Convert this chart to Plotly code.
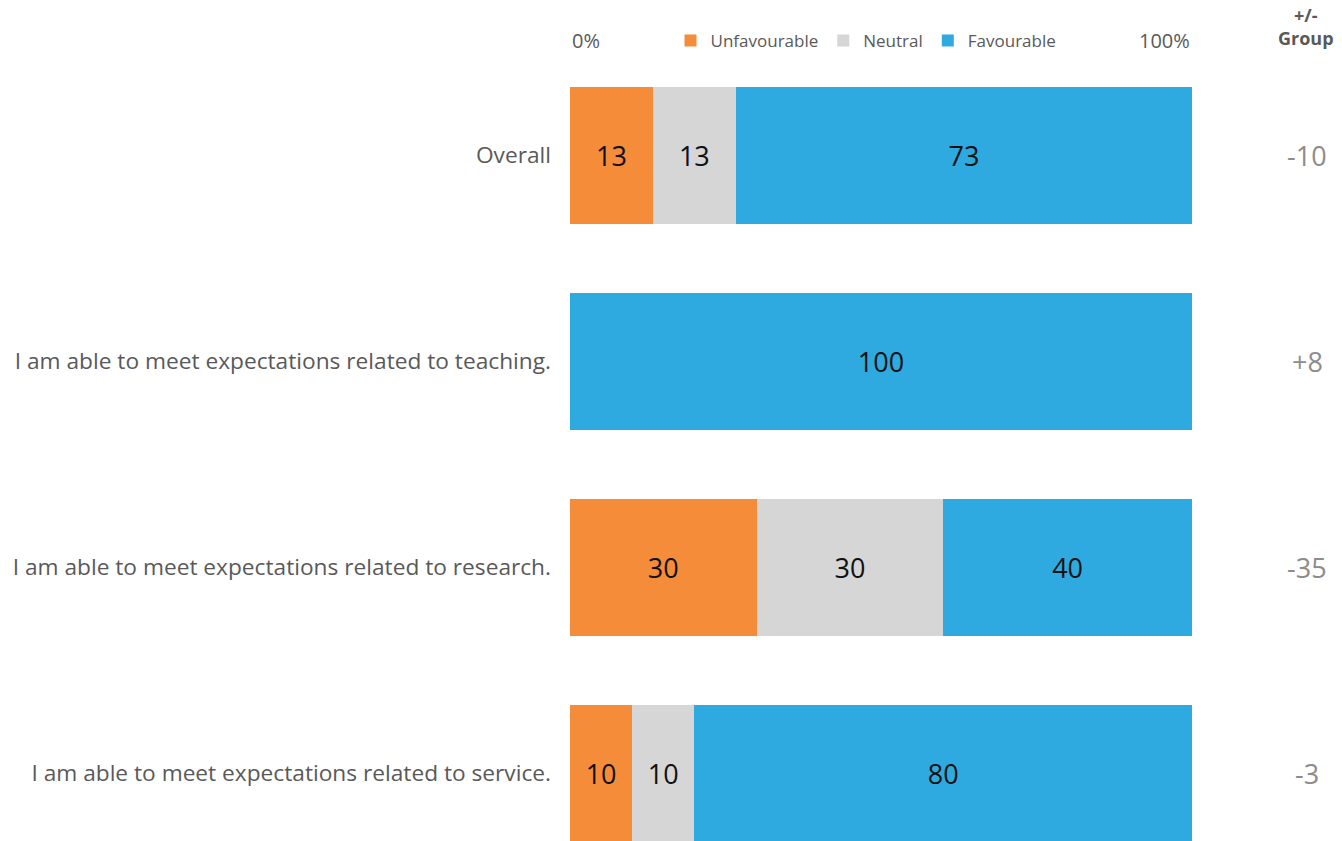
import plotly.graph_objects as go

categories = ["Overall",
              "I am able to meet expectations related to teaching.",
              "I am able to meet expectations related to research.",
              "I am able to meet expectations related to service."]
unfavourable = [13.33, 0, 30, 10]
neutral = [13.33, 0, 30, 10]
favourable = [73.33, 100, 40, 80]
group_diff = ["-10", "+8", "-35", "-3"]

series = [("Unfavourable", unfavourable, "#F48C3A"),
          ("Neutral", neutral, "#D6D6D6"),
          ("Favourable", favourable, "#2EAAE1")]

ypos = list(range(len(categories)))
FONT = "Open Sans, Segoe UI, sans-serif"

fig = go.Figure()
for name, vals, color in series:
    fig.add_trace(go.Bar(
        name=name, y=ypos, x=vals, orientation="h", width=0.665,
        marker=dict(color=color, line=dict(width=0)),
        text=[f"{v:.0f}" if v > 0 else "" for v in vals],
        textposition="inside", insidetextanchor="middle",
        textfont=dict(family=FONT, size=27, color="#111111"),
        hoverinfo="x+name",
    ))

plot_left, plot_right, plot_top, plot_bottom = 570, 1192, 52, 841

fig.update_layout(
    barmode="stack",
    width=1342, height=841,
    margin=dict(l=570, r=150, t=52, b=0),
    plot_bgcolor="white", paper_bgcolor="white",
    font=dict(family=FONT),
    uniformtext=dict(minsize=10, mode="show"),
    xaxis=dict(range=[0, 100], visible=False, fixedrange=True),
    yaxis=dict(range=[3.328, -0.5], tickvals=ypos, ticktext=categories,
               showgrid=False, zeroline=False, showline=False,
               ticks="", ticklabelstandoff=18,
               tickfont=dict(family=FONT, size=22.7, color="#595959")),
    legend=dict(orientation="h", x=(866 - plot_left) / (plot_right - plot_left), xanchor="center",
                y=(plot_bottom - 41) / (plot_bottom - plot_top), yanchor="middle",
                yref="paper", font=dict(family=FONT, size=17, color="#595959"),
                itemwidth=30, traceorder="normal", bgcolor="rgba(0,0,0,0)"),
    showlegend=True,
)

annotations = [
    dict(x=0, y=40, xref="x", yref="paper", yanchor="middle", text="0%", xanchor="left",
         showarrow=False, font=dict(family=FONT, size=20, color="#595959")),
    dict(x=100, y=40, xref="x", yref="paper", yanchor="middle", text="100%", xanchor="right",
         showarrow=False, font=dict(family=FONT, size=20, color="#595959")),
    dict(x=1306, y=27, xref="paper", yref="paper", text="<b>+/-<br>Group</b>", xanchor="center",
         yanchor="middle", showarrow=False, align="center",
         font=dict(family=FONT, size=18, color="#595959")),
]
for yi, d in zip(ypos, group_diff):
    annotations.append(dict(x=1307, y=yi, xref="paper", yref="y", text=d, xanchor="center",
                            yanchor="middle", showarrow=False,
                            font=dict(family=FONT, size=27, color="#8c8c8c")))

# convert pixel-based paper coords
for a in annotations:
    if a["xref"] == "paper":
        a["x"] = (a["x"] - plot_left) / (plot_right - plot_left)
    if a["yref"] == "paper":
        a["y"] = (plot_bottom - a["y"]) / (plot_bottom - plot_top)
fig.update_layout(annotations=annotations)

fig.write_html("out.html", config={"displayModeBar": False},
               post_script="document.body.style.margin='0';document.body.style.overflow='hidden';")
